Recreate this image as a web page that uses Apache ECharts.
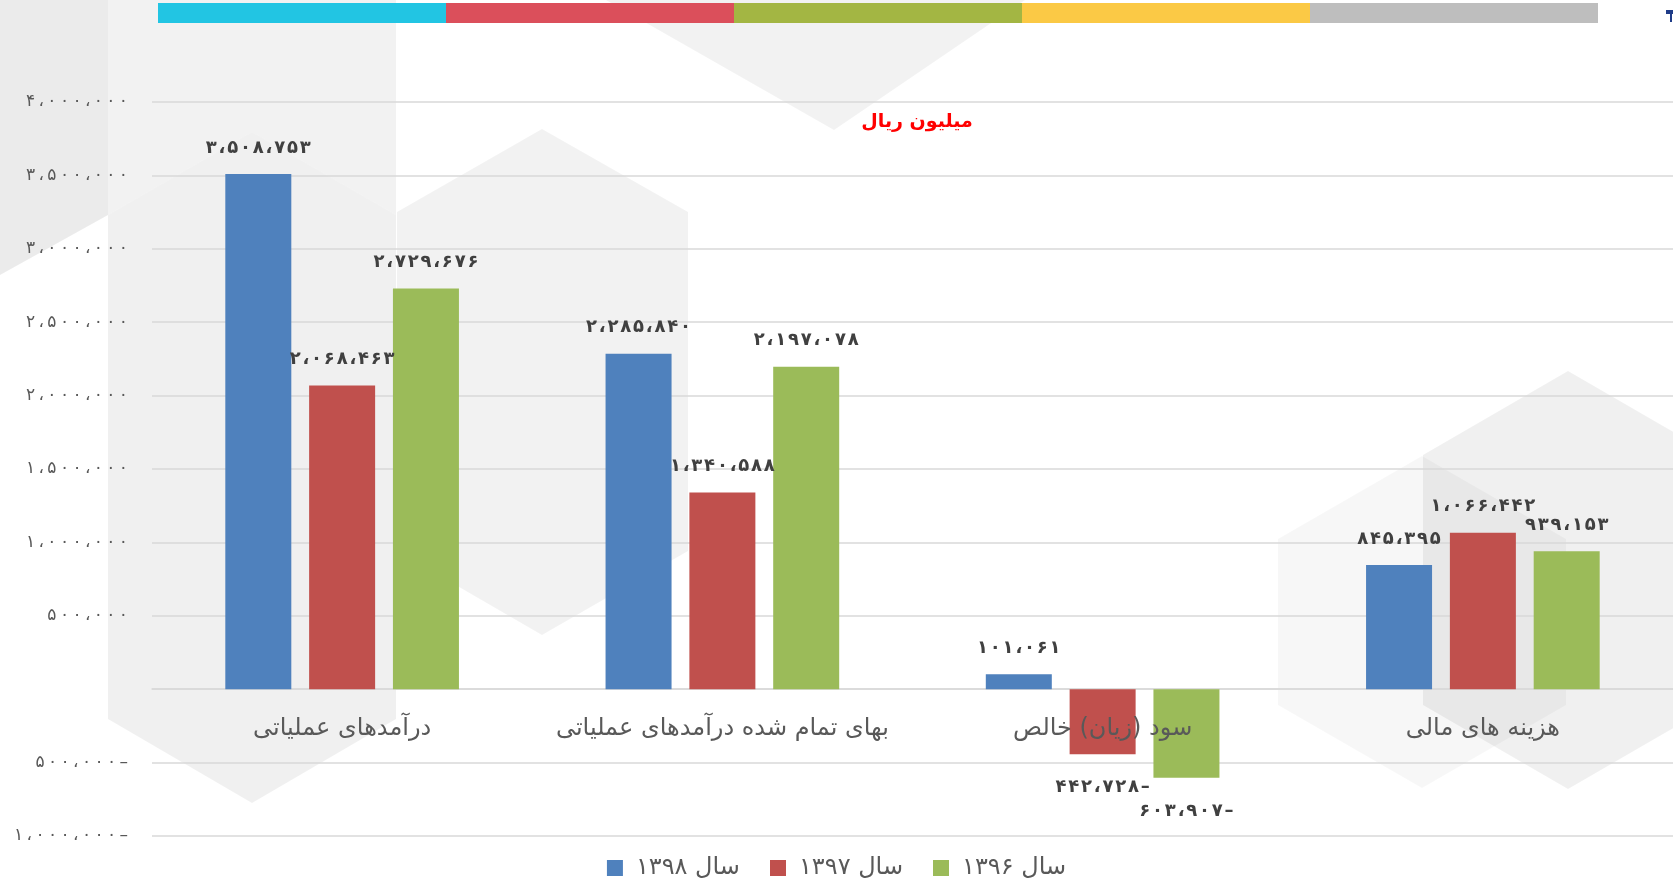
<!DOCTYPE html>
<html>
<head>
<meta charset="utf-8">
<title>chart</title>
<script src="https://cdn.jsdelivr.net/npm/echarts@6/dist/echarts.min.js"></script>
<style>
html,body{margin:0;padding:0;background:#fff;}
#chart_1{width:1673px;height:881px;}
</style>
</head>
<body>
<div id="chart_1"></div>
<script>
// data
var categories = ['درآمدهای عملیاتی', 'بهای تمام شده درآمدهای عملیاتی', 'سود (زیان) خالص', 'هزینه های مالی'];
var names = ['سال ۱۳۹۸', 'سال ۱۳۹۷', 'سال ۱۳۹۶'];
var y1398 = [3508753, 2285840, 101061, 845395];
var y1397 = [2068463, 1340588, -442728, 1066442];
var y1396 = [2729676, 2197078, -603907, 939153];
var colors = ['#4f81bd', '#c0504d', '#9bbb59'];
var stripColors = ['#22c5e3', '#db4f5b', '#a3b643', '#fbc945', '#bebebe'];

var FONT = 'DejaVu Sans';

//عدد فارسی با جداکننده
function toFa(n, gap){
	var s = Math.abs(n).toString().replace(/\B(?=(\d{3})+(?!\d))/g, '،');
	s = s.replace(/\d/g, function(d){ return '۰۱۲۳۴۵۶۷۸۹'[d]; });
	if (n < 0) s = s + '–';
	return s.split('').join(gap || '');
}

// negative values get their label under the bar
function barData(arr){
	return arr.map(function(v){
		if (v < 0) return {value: v, label: {position: 'bottom', distance: 24}};
		return {value: v, label: {position: 'top'}};
	});
}

function hexagon(top, ul, ll, bottom, lr, ur){
	return [top, ul, ll, bottom, lr, ur];
}

function drawChart(){
	var dom = document.getElementById("chart_1");
	var myChart = echarts.init(dom);
	var option = null;

	var graphics = [];
	// background shapes
	var shade = [
		{pts: [[0,0],[108,0],[108,215],[0,275]], a: 0.08},
		{pts: [[108,0],[396,0],[396,215],[252,132],[108,215]], a: 0.05},
		{pts: hexagon([252,132],[108,215],[108,719],[252,803],[396,719],[396,215]), a: 0.06},
		{pts: hexagon([542,129],[397,212],[397,551],[542,635],[688,551],[688,212]), a: 0.05},
		{pts: [[606,0],[1025,0],[834,130]], a: 0.05},
		{pts: hexagon([1422,456],[1278,539],[1278,705],[1422,788],[1566,705],[1566,539]), a: 0.03},
		{pts: hexagon([1568,371],[1423,455],[1423,705],[1568,789],[1713,705],[1713,455]), a: 0.06}
	];
	shade.forEach(function(s){
		graphics.push({
			type: 'polygon', z: -100, silent: true,
			shape: {points: s.pts},
			style: {fill: 'rgba(0,0,0,' + s.a + ')'}
		});
	});
	// top colour strip
	stripColors.forEach(function(c, i){
		graphics.push({
			type: 'rect', z: 10, silent: true,
			shape: {x: 158 + i * 288, y: 3, width: 288, height: 20},
			style: {fill: c}
		});
	});
	graphics.push({type: 'rect', z: 10, shape: {x: 1666, y: 10, width: 7, height: 4}, style: {fill: '#1f3c88'}});
	graphics.push({type: 'rect', z: 10, shape: {x: 1670, y: 10, width: 2, height: 12}, style: {fill: '#1f3c88'}});

	var valueLabel = {
		show: true,
		distance: 17,
		formatter: function(p){ return toFa(p.value, '\u200a'); },
		color: '#404040',
		fontFamily: FONT,
		fontSize: 18,
		fontWeight: 'bold'
	};

	var series = [y1398, y1397, y1396].map(function(arr, i){
		return {
			name: names[i],
			type: 'bar',
			barWidth: 66,
			barGap: '27%',
			itemStyle: {color: colors[i]},
			label: valueLabel,
			data: barData(arr)
		};
	});

	option = {
		backgroundColor: '#fff',
		animation: false,
		graphic: graphics,
		title: {
			text: 'میلیون ریال',
			left: 912,
			top: 108,
			textAlign: 'center',
			textStyle: {color: '#ff0000', fontFamily: FONT, fontSize: 19, fontWeight: 'bold'}
		},
		legend: {
			data: names,
			left: 'center',
			top: 851,
			icon: 'rect',
			itemWidth: 16,
			itemHeight: 16,
			itemGap: 30,
			textStyle: {color: '#595959', fontFamily: FONT, fontSize: 24, padding: [0, 0, 0, 8]}
		},
		// main grid + a second grid ending at the zero line, only for category names
		grid: [
			{left: 152, right: 0, top: 102, bottom: 45},
			{left: 152, right: 0, top: 102, bottom: 193}
		],
		xAxis: [{
			type: 'category',
			data: categories,
			axisTick: {show: false},
			axisLine: {onZero: true, lineStyle: {color: '#d9d9d9', width: 1.5}},
			axisLabel: {show: false}
		}, {
			type: 'category',
			gridIndex: 1,
			z: 20,
			data: categories,
			axisTick: {show: false},
			axisLine: {show: false},
			axisLabel: {interval: 0, color: '#595959', fontFamily: FONT, fontSize: 24, margin: 29}
		}],
		yAxis: [{
			type: 'value',
			min: -1000000,
			max: 4000000,
			interval: 500000,
			axisLine: {show: false},
			axisTick: {show: false},
			splitLine: {lineStyle: {color: '#d9d9d9', width: 1.5}},
			axisLabel: {
				color: '#595959', fontFamily: FONT, fontSize: 17, margin: 24,
				formatter: function(v){ return v === 0 ? '' : toFa(v, '\u2009'); }
			}
		}, {
			type: 'value',
			gridIndex: 1,
			show: false
		}],
		series: series
	};
	if (option && typeof option === "object") {
		myChart.setOption(option, true);
	}
}

window.onload = drawChart;
</script>
</body>
</html>
